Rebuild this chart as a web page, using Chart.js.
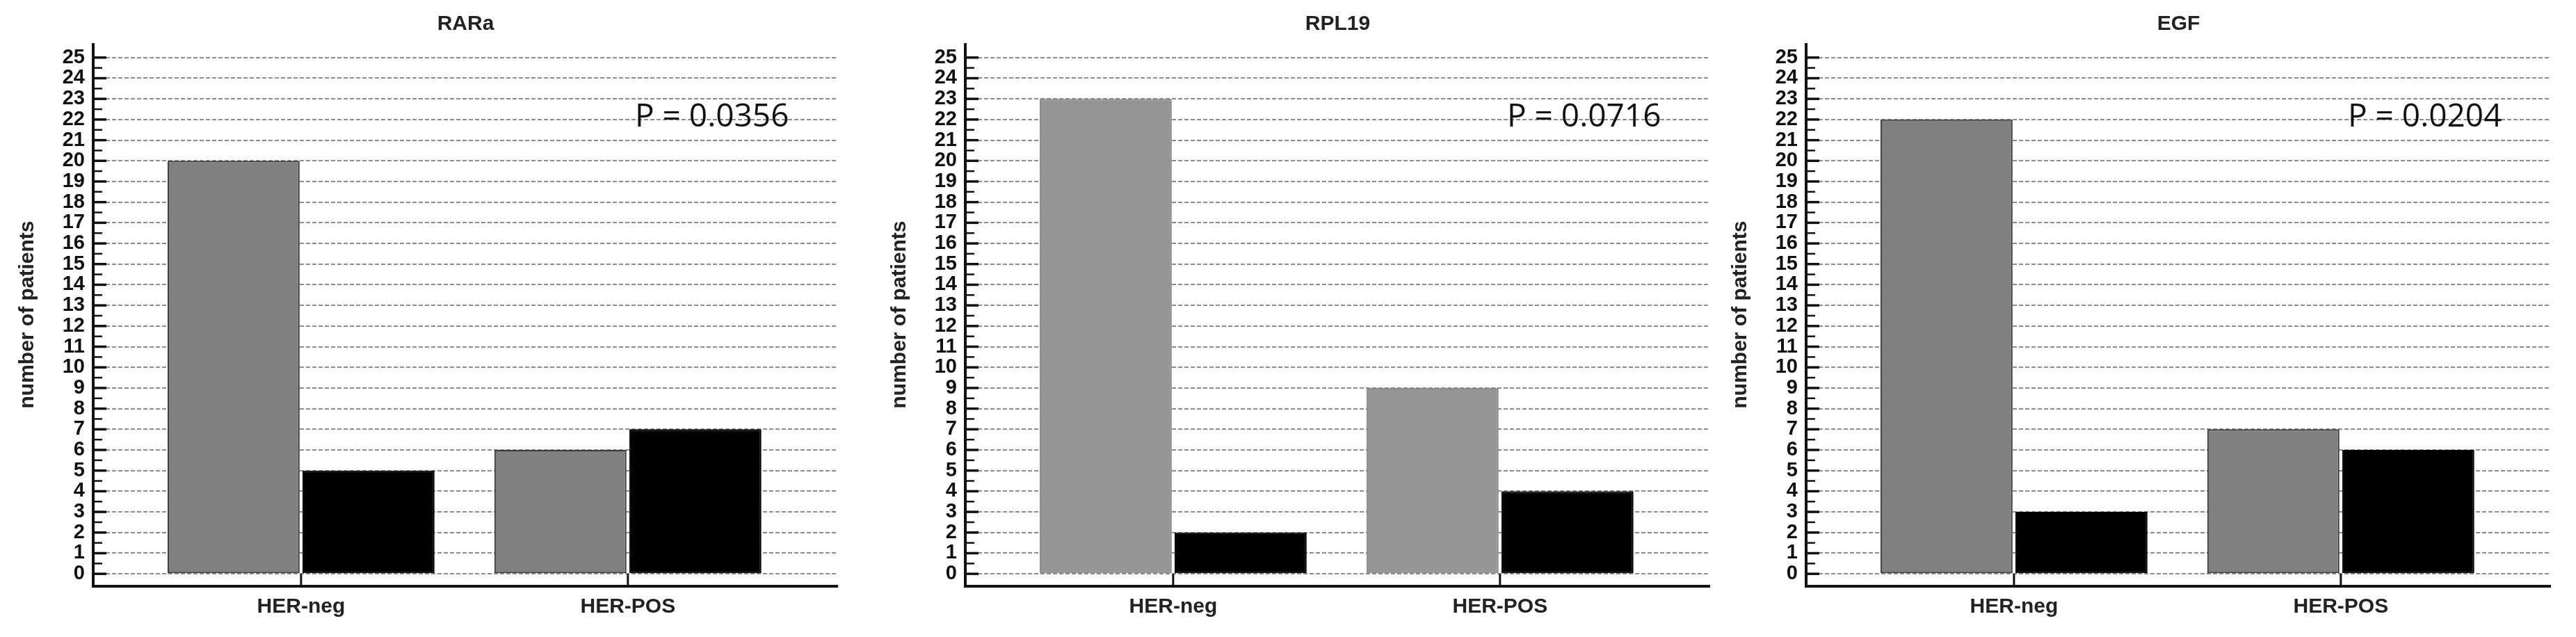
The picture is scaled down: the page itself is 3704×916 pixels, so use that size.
<!DOCTYPE html>
<html>
<head>
<meta charset="utf-8">
<script src="https://cdn.jsdelivr.net/npm/chart.js@4/dist/chart.umd.min.js"></script>
<style>
  html, body { margin: 0; padding: 0; background: #ffffff; }
  #wrap { position: relative; width: 3704px; height: 916px; background: #ffffff; overflow: hidden; }
  canvas { position: absolute; top: 0; }
</style>
</head>
<body>
<div id="wrap">
  <canvas id="c0"></canvas>
  <canvas id="c1"></canvas>
  <canvas id="c2"></canvas>
</div>
<script>
// ---- data ----
const categories = ['HER-neg', 'HER-POS'];
const panelTitles = ['RARa', 'RPL19', 'EGF'];
const pTexts = ['P = 0.0356', 'P = 0.0716', 'P = 0.0204'];
const rarGray = [20, 6];
const rarBlack = [5, 7];
const rplGray = [23, 9];
const rplBlack = [2, 4];
const egfGray = [22, 7];
const egfBlack = [3, 6];
const yTickValues = [0, 1, 2, 3, 4, 5, 6, 7, 8, 9, 10, 11, 12, 13, 14, 15, 16, 17, 18, 19, 20, 21, 22, 23, 24, 25];
const yAxisTitle = 'number of patients';

// ---- layout / style ----
const panels = [
  { id: 'c0', left: 0,    width: 1236, axisW: 134, gray: rarGray, black: rarBlack, grayFill: '#808080', grayBorder: '#3a3a3a' },
  { id: 'c1', left: 1236, width: 1231, axisW: 152, gray: rplGray, black: rplBlack, grayFill: '#959595', grayBorder: '#8a8a8a' },
  { id: 'c2', left: 2467, width: 1237, axisW: 130, gray: egfGray, black: egfBlack, grayFill: '#808080', grayBorder: '#3a3a3a' }
];
const H = 916;
const FONT = '"Liberation Sans", Arial, sans-serif';

function toPoints(vals) {
  return vals.map((v, i) => ({ x: i + 1, y: v }));
}

function makeDecor(idx) {
  return {
    id: 'decor' + idx,
    afterDatasetsDraw(chart) {
      const ctx = chart.ctx;
      const a = chart.chartArea;
      const ys = chart.scales.y;
      const xs = chart.scales.x;
      ctx.save();
      // axes
      ctx.strokeStyle = '#111111';
      ctx.lineCap = 'butt';
      ctx.lineWidth = 4;
      ctx.beginPath();
      ctx.moveTo(a.left, a.top);
      ctx.lineTo(a.left, a.bottom + 2);
      ctx.stroke();
      ctx.lineWidth = 4;
      ctx.beginPath();
      ctx.moveTo(a.left - 2, a.bottom);
      ctx.lineTo(a.right, a.bottom);
      ctx.stroke();
      // major / minor ticks (inward)
      yTickValues.forEach(v => {
        const py = ys.getPixelForValue(v);
        ctx.lineWidth = 3.5;
        ctx.beginPath();
        ctx.moveTo(a.left, py);
        ctx.lineTo(a.left + 19, py);
        ctx.stroke();
        if (v < yTickValues[yTickValues.length - 1]) {
          const pm = ys.getPixelForValue(v + 0.5);
          ctx.lineWidth = 2.5;
          ctx.beginPath();
          ctx.moveTo(a.left, pm);
          ctx.lineTo(a.left + 13, pm);
          ctx.stroke();
        }
      });
      // category ticks
      categories.forEach((c, i) => {
        const px = xs.getPixelForValue(i + 1);
        ctx.lineWidth = 3;
        ctx.beginPath();
        ctx.moveTo(px, a.bottom);
        ctx.lineTo(px, ys.getPixelForValue(0));
        ctx.stroke();
      });
      // title
      ctx.fillStyle = '#222222';
      ctx.font = 'bold 30px ' + FONT;
      ctx.textAlign = 'center';
      ctx.textBaseline = 'middle';
      ctx.fillText(panelTitles[idx], (a.left + a.right) / 2, 35);
      // y axis title
      ctx.save();
      ctx.translate(a.left - 94, (a.top + a.bottom) / 2);
      ctx.rotate(-Math.PI / 2);
      ctx.fillText(yAxisTitle, 0, 0);
      ctx.restore();
      // p value
      ctx.fillStyle = '#111111';
      ctx.font = '46px "Open Sans", sans-serif';
      ctx.textAlign = 'left';
      ctx.textBaseline = 'alphabetic';
      ctx.fillText(pTexts[idx], a.left + 779, 182);
      ctx.restore();
    }
  };
}

panels.forEach((p, idx) => {
  const cv = document.getElementById(p.id);
  cv.width = p.width;
  cv.height = H;
  cv.style.left = p.left + 'px';
  cv.style.width = p.width + 'px';
  cv.style.height = H + 'px';
  new Chart(cv.getContext('2d'), {
    type: 'bar',
    data: {
      datasets: [
        {
          data: toPoints(p.gray),
          backgroundColor: p.grayFill,
          borderColor: p.grayBorder,
          borderWidth: 2,
          borderSkipped: false
        },
        {
          data: toPoints(p.black),
          backgroundColor: '#000000',
          borderColor: '#000000',
          borderWidth: 2,
          borderSkipped: false
        }
      ]
    },
    options: {
      responsive: false,
      animation: false,
      devicePixelRatio: 1,
      categoryPercentage: 0.8255,
      barPercentage: 0.979,
      layout: { padding: { top: 62, right: p.width - p.axisW - 1071, bottom: 0, left: 0 } },
      plugins: { legend: { display: false }, title: { display: false }, tooltip: { enabled: false } },
      scales: {
        x: {
          type: 'linear',
          min: 0.364,
          max: 2.643,
          offset: false,
          grid: { display: false, drawTicks: false },
          border: { display: false },
          afterBuildTicks(scale) { scale.ticks = categories.map((c, i) => ({ value: i + 1 })); },
          afterFit(scale) { scale.height = 73; },
          ticks: {
            autoSkip: false,
            maxRotation: 0,
            padding: 12,
            color: '#222222',
            font: { family: FONT, size: 30, weight: 'bold' },
            callback: (v) => categories[Math.round(v) - 1] || ''
          }
        },
        y: {
          type: 'linear',
          min: -0.6,
          max: 25.7,
          grid: { display: true, drawTicks: false, color: '#8c8c8c', lineWidth: 2, borderDash: [6, 3] },
          border: { display: false, dash: [6, 3] },
          afterBuildTicks(scale) { scale.ticks = yTickValues.map(v => ({ value: v })); },
          afterFit(scale) { scale.width = p.axisW; },
          ticks: {
            autoSkip: false,
            padding: 12,
            color: '#111111',
            font: { family: FONT, size: 29, weight: 'bold' },
            callback: (v) => String(v)
          }
        }
      }
    },
    plugins: [makeDecor(idx)]
  });
});
</script>
</body>
</html>
